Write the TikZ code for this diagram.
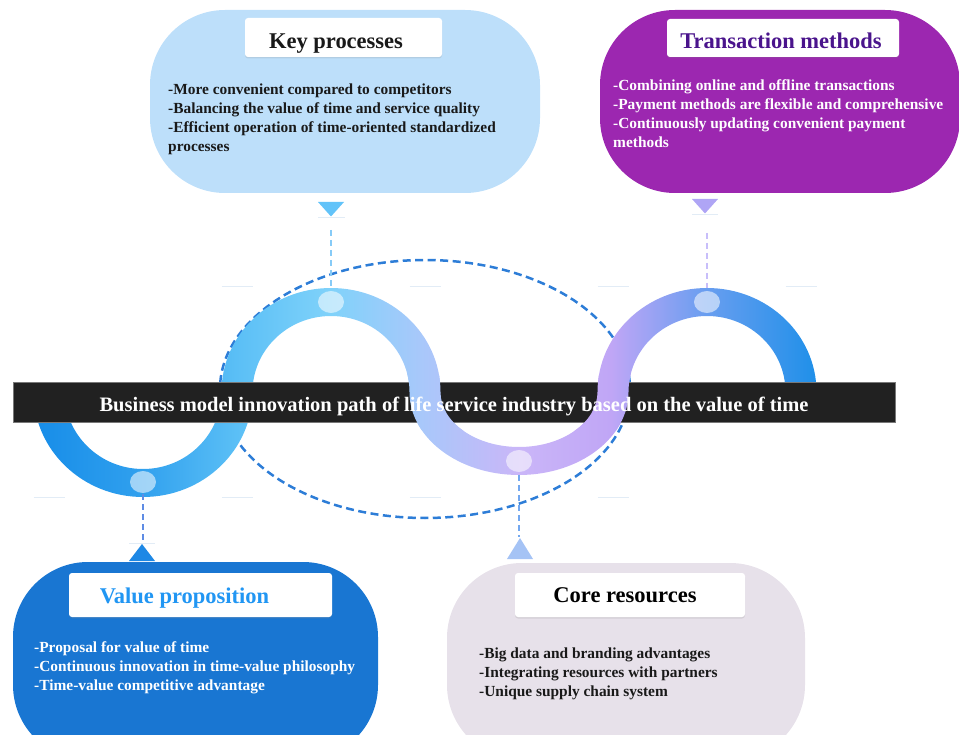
\documentclass[tikz,border=0pt]{standalone}
\usepackage{fontspec}
\setmainfont{Liberation Serif}
\usetikzlibrary{shapes.geometric,shadows}
\definecolor{kpfill}{RGB}{189,223,250}
\definecolor{tmfill}{RGB}{156,39,176}
\definecolor{vpfill}{RGB}{25,118,210}
\definecolor{crfill}{RGB}{231,225,234}
\definecolor{tmtitle}{RGB}{74,20,140}
\definecolor{vptitle}{RGB}{33,150,243}
\definecolor{darktext}{RGB}{25,25,25}
\definecolor{barfill}{RGB}{33,33,33}
\definecolor{barline}{RGB}{120,120,120}
\definecolor{ellc}{RGB}{45,125,215}
\definecolor{tickc}{RGB}{226,236,246}
\definecolor{kptri}{RGB}{98,195,249}
\definecolor{tmtri}{RGB}{175,165,245}
\definecolor{vptri}{RGB}{30,136,229}
\definecolor{crtri}{RGB}{165,195,245}
\definecolor{kpdash}{RGB}{135,203,247}
\definecolor{tmdash}{RGB}{200,190,250}
\definecolor{vpdash}{RGB}{95,140,228}
\definecolor{crdash}{RGB}{115,168,240}
\definecolor{w0}{RGB}{22,140,232}
\definecolor{w1}{RGB}{48,160,238}
\definecolor{w2}{RGB}{92,192,246}
\definecolor{w3}{RGB}{128,210,250}
\definecolor{w4}{RGB}{168,200,250}
\definecolor{w5}{RGB}{202,182,248}
\definecolor{w6}{RGB}{192,166,246}
\definecolor{w7}{RGB}{105,158,240}
\definecolor{w8}{RGB}{22,142,232}
\pgfdeclarehorizontalshading{wave}{100bp}{color(0bp)=(w0); color(25bp)=(w0); color(31.9bp)=(w1); color(38.1bp)=(w2); color(43.8bp)=(w3); color(49.4bp)=(w4); color(55.6bp)=(w5); color(61.3bp)=(w6); color(67.2bp)=(w7); color(75bp)=(w8); color(100bp)=(w8)}
\newcommand{\wavering}{%
  (33.5,392) arc[start angle=180,end angle=0,x radius=109.5,y radius=105] -- (221.5,392) arc[start angle=0,end angle=180,x radius=78.5,y radius=77] -- cycle
  (221.5,392) arc[start angle=180,end angle=360,x radius=109.5,y radius=104] -- (409.5,392) arc[start angle=360,end angle=180,x radius=78.5,y radius=76] -- cycle
  (409.5,392) arc[start angle=180,end angle=0,x radius=109.5,y radius=83] -- (597.5,392) arc[start angle=0,end angle=180,x radius=78.5,y radius=55] -- cycle
  (597.5,392) arc[start angle=180,end angle=360,x radius=109.5,y radius=104] -- (785.5,392) arc[start angle=360,end angle=180,x radius=78.5,y radius=76] -- cycle}
\begin{document}
\begin{tikzpicture}[x=1pt,y=-1pt,
  bigbox/.style={rectangle, rounded corners=75pt, inner sep=0pt, draw=none},
  titlebox/.style={rectangle, fill=white, rounded corners=3pt, inner sep=0pt,
    drop shadow={opacity=0.18, shadow xshift=0pt, shadow yshift=-1.5pt}},
  titletext/.style={font=\fontsize{22.5}{26}\selectfont\bfseries, anchor=base, inner sep=0pt},
  bodytext/.style={font=\fontsize{15.4}{19}\selectfont\bfseries, anchor=base west, inner sep=0pt},
  bartext/.style={font=\fontsize{20.5}{24}\selectfont\bfseries, anchor=base, inner sep=0pt, text=white},
  dotnode/.style={ellipse, fill=white, fill opacity=0.55, minimum width=26pt, minimum height=22pt, inner sep=0pt},
  tickline/.style={draw=tickc, line width=1pt},
  conn/.style={line width=1.2pt, dash pattern=on 6pt off 4pt},
  ellline/.style={draw=ellc, line width=2.5pt, dash pattern=on 8pt off 4.5pt}]
\useasboundingbox (0,0) rectangle (959,735);

% faint tick marks
\foreach \a in {221.5,409.5,597.5,785.5} \draw[tickline] (\a,287) -- ++(31,0);
\foreach \a in {33.5,221.5,409.5,597.5} \draw[tickline] (\a,497) -- ++(31,0);
\draw[tickline] (318,217.5) -- (345,217.5);
\draw[tickline] (692,214.5) -- (718,214.5);
\draw[tickline] (129,543) -- (155,543);

% boxes
\node[bigbox, fill=kpfill, minimum width=390pt, minimum height=183pt] (kp) at (345,101.5) {};
\node[bigbox, fill=tmfill, minimum width=360pt, minimum height=183pt] (tm) at (780,101.5) {};
\node[bigbox, fill=vpfill, minimum width=365pt, minimum height=198pt] (vp) at (195.5,661) {};
\node[bigbox, fill=crfill, minimum width=358pt, minimum height=197pt] (cr) at (626,661.5) {};

\node[titlebox, minimum width=197pt, minimum height=39pt] (kpt) at (343.5,37.5) {};
\node[titlebox, minimum width=232pt, minimum height=38pt] (tmt) at (783,38) {};
\node[titlebox, minimum width=263pt, minimum height=44pt] (vpt) at (200.5,595) {};
\node[titlebox, minimum width=230pt, minimum height=44pt] (crt) at (630,595) {};

\node[titletext, text=darktext] (kptx) at (336,49) {Key processes};
\node[titletext, text=tmtitle] (tmtx) at (781,49) {Transaction methods};
\node[titletext, text=vptitle] (vptx) at (184.5,603) {Value proposition};
\node[titletext, text=black] (crtx) at (625,602) {Core resources};

\foreach \t [count=\i] in {-More convenient compared to competitors,-Balancing the value of time and service quality,-Efficient operation of time-oriented standardized,processes}
  \node[bodytext, text=darktext] (kpl\i) at (168,{95+19*(\i-1)}) {\t};
\foreach \t [count=\i] in {-Combining online and offline transactions,-Payment methods are flexible and comprehensive,-Continuously updating convenient payment,methods}
  \node[bodytext, text=white] (tml\i) at (613,{91+19*(\i-1)}) {\t};
\foreach \t [count=\i] in {-Proposal for value of time,-Continuous innovation in time-value philosophy,-Time-value competitive advantage}
  \node[bodytext, text=white] (vpl\i) at (34,{652+19*(\i-1)}) {\t};
\foreach \t [count=\i] in {-Big data and branding advantages,-Integrating resources with partners,-Unique supply chain system}
  \node[bodytext, text=darktext] (crl\i) at (479,{658+19*(\i-1)}) {\t};

% triangles
\fill[kptri] (318,202) -- (344,202) -- (331,216.5) -- cycle;
\fill[tmtri] (692,199) -- (718,199) -- (705,213.5) -- cycle;
\fill[vptri] (129,561) -- (155,561) -- (142,544) -- cycle;
\fill[crtri] (507,559) -- (533,559) -- (520,538) -- cycle;
\coordinate (kpa) at (331,230);
\coordinate (tma) at (707,233);
\coordinate (vpa) at (143,542);
\coordinate (cra) at (519,537);

% dashed ellipse
\draw[ellline] (425,389) ellipse[x radius=205, y radius=129];

% ring, first layer
\begin{scope}
  \clip \wavering;
  \shade[shading=wave] (30,270) rectangle (830,500);
\end{scope}

% bar
\node[rectangle, draw=barline, line width=0.6pt, fill=barfill, minimum width=882pt, minimum height=39.5pt, inner sep=0pt] (bar) at (454,402.5) {};

% ring, second layer over the bar
\begin{scope}
  \clip (380,375) rectangle (660,430);
  \clip \wavering;
  \shade[shading=wave] (30,270) rectangle (830,500);
\end{scope}

\node[bartext] (bartx) at (454,411) {Business model innovation path of life service industry based on the value of time};

% dots
\node[dotnode] (d1) at (143,482) {};
\node[dotnode] (d2) at (331,302) {};
\node[dotnode] (d3) at (519,461) {};
\node[dotnode] (d4) at (707,302) {};

% connectors
\draw[conn, draw=kpdash, shorten >=3pt] (kpa) -- (d2.north);
\draw[conn, draw=tmdash, shorten >=3pt] (tma) -- (d4.north);
\draw[conn, draw=vpdash, shorten <=1pt] (d1.south) -- (vpa);
\draw[conn, draw=crdash, shorten <=3pt] (d3.south) -- (cra);
\end{tikzpicture}
\end{document}
